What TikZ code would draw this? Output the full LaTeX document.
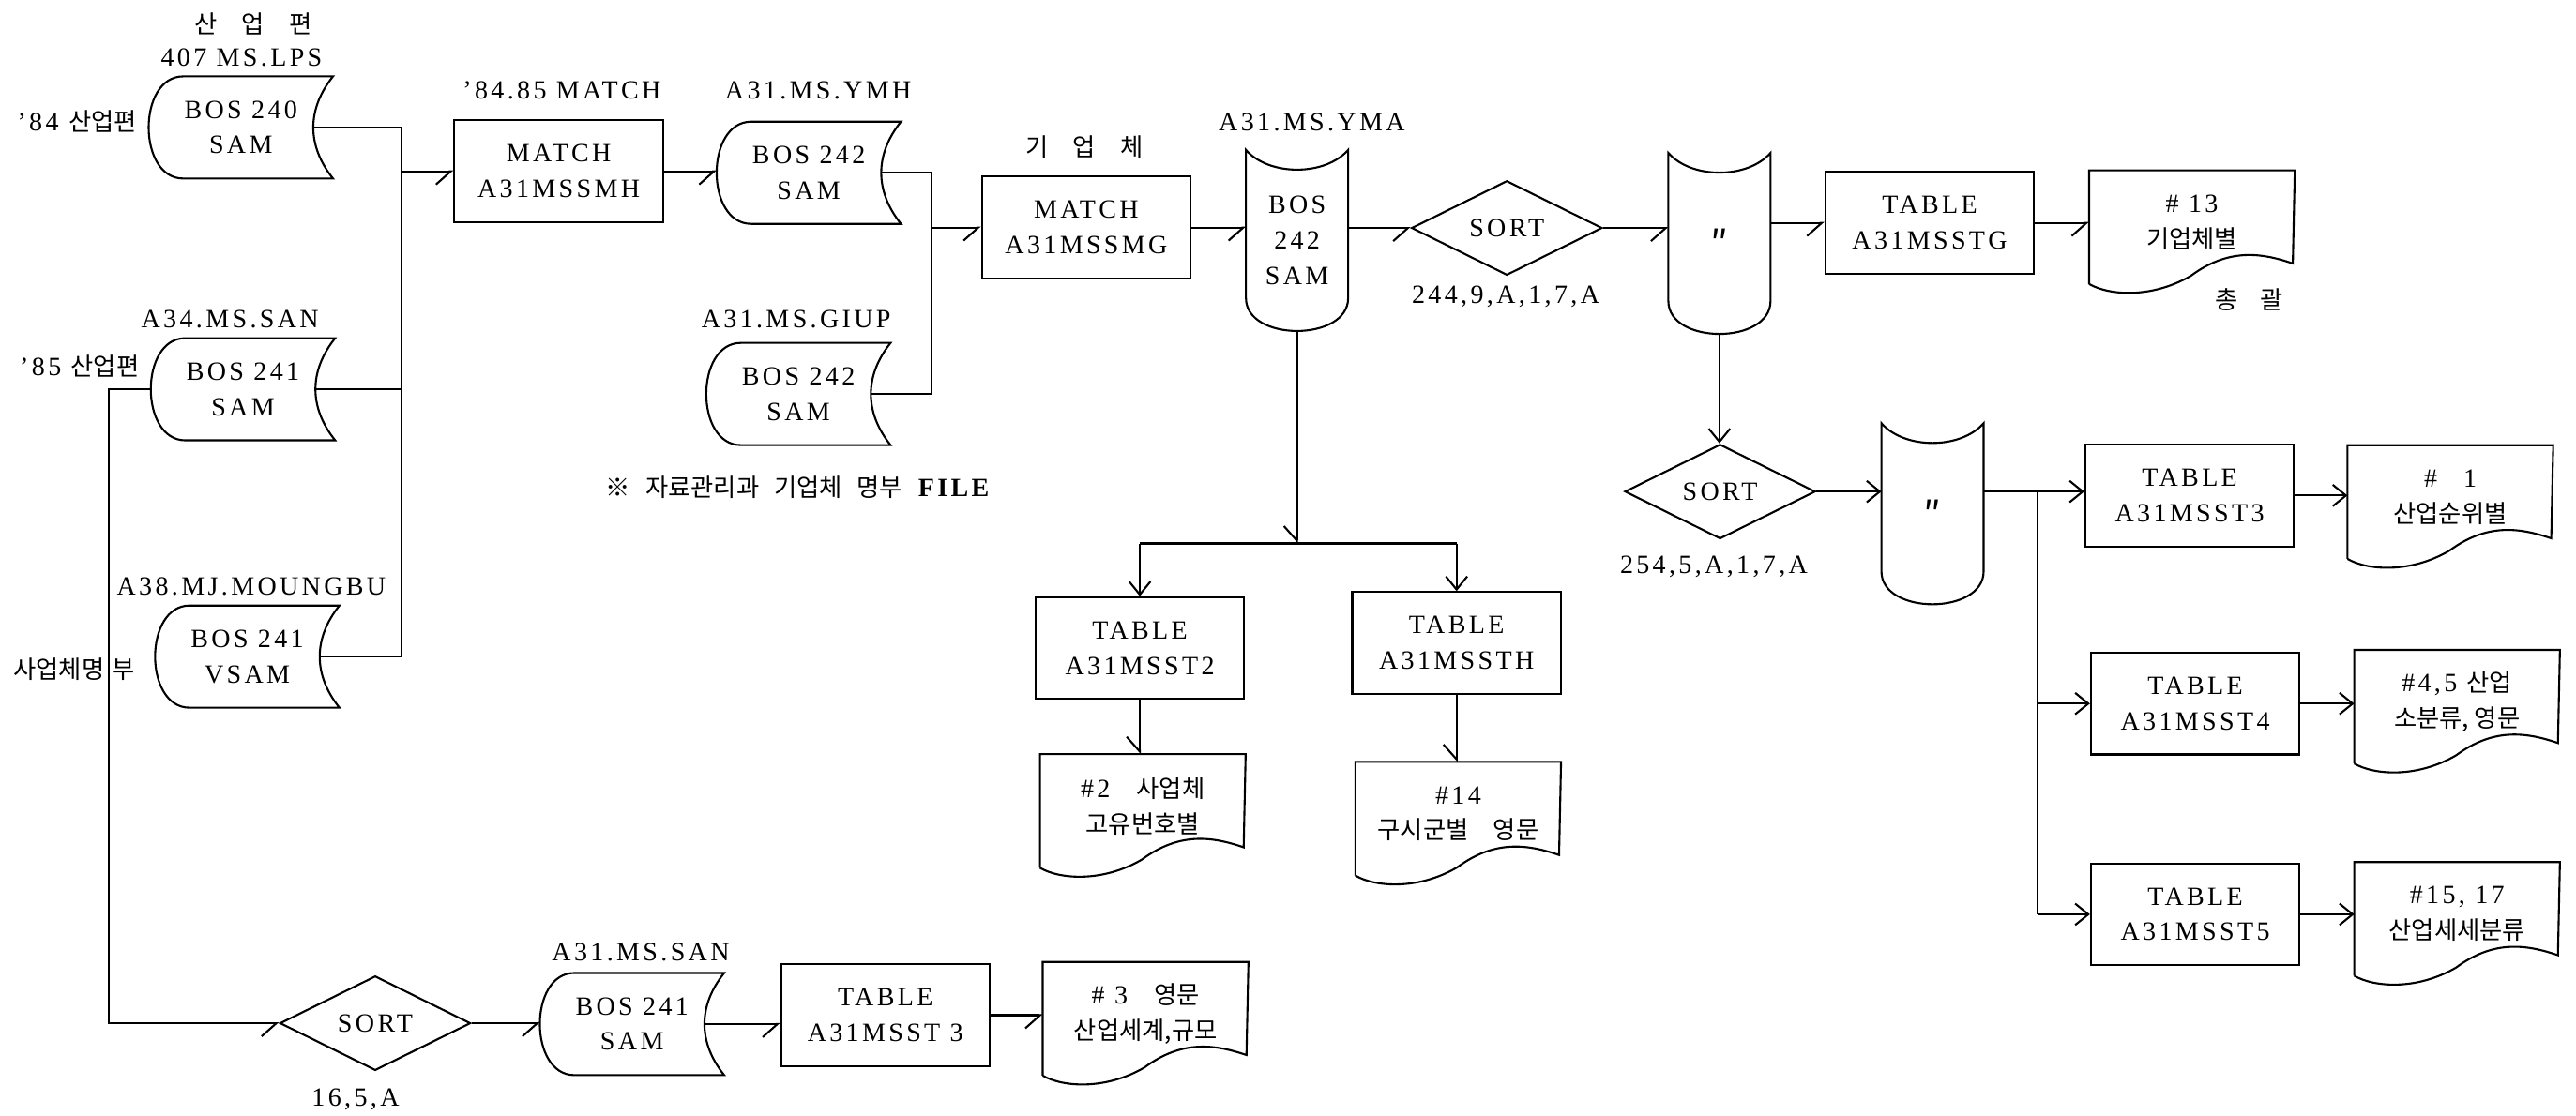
\documentclass[tikz,border=0pt]{standalone}
\usepackage{fontspec}
\setmainfont{Liberation Serif}[LetterSpace=12]
\newfontfamily\kr{Noto Sans CJK KR}[Scale=0.94]
\usetikzlibrary{arrows.meta,shapes.geometric,calc}

\tikzset{
  txt/.style={inner sep=0pt, font=\fontsize{16}{21.5}\selectfont, align=center},
  box/.style={draw, rectangle, minimum width=127pt, minimum height=62pt, inner sep=0pt, txt},
  stor/.style={rectangle, minimum width=111pt, minimum height=61pt, inner sep=0pt, txt},
  vstor/.style={rectangle, minimum width=61pt, minimum height=109pt, inner sep=0pt, txt},
  docu/.style={rectangle, minimum width=124pt, minimum height=62pt, inner sep=0pt, txt},
  sortd/.style={draw, diamond, aspect=2, minimum width=116pt, minimum height=57.5pt, inner sep=0pt, txt},
  harp/.style={-{Straight Barb[harpoon,swap,length=9pt,width=16pt]}},
  farrow/.style={-{Straight Barb[length=8pt,width=13pt]}},
  ditto/.style={font=\fontsize{24}{24}\selectfont},
}

\newcommand\storshape[1]{%
  \draw ($(#1.north west)+(21,0)$) -- (#1.north east)
     .. controls ($(#1.north east)+(-16,20)$) and ($(#1.south east)+(-16,-20)$) .. (#1.south east)
     -- ($(#1.south west)+(21,0)$)
     .. controls ($(#1.south west)+(-7,0)$) and ($(#1.north west)+(-7,0)$) .. cycle;}
\newcommand\vstorshape[1]{%
  \draw (#1.north west) .. controls ($(#1.north west)+(14,16)$) and ($(#1.north east)+(-14,16)$) .. (#1.north east)
     -- ($(#1.south east)+(0,-20)$)
     .. controls ($(#1.south east)+(0,6.7)$) and ($(#1.south west)+(0,6.7)$) .. ($(#1.south west)+(0,-20)$)
     -- cycle;}
\newcommand\docshape[1]{%
  \draw ($(#1.south west)+(0,6)$) -- (#1.north west) -- (#1.north east) -- ($(#1.south west)+(124,-6.5)$)
     .. controls ($(#1.south west)+(105,-13)$) and ($(#1.south west)+(85,-16)$) .. ($(#1.south west)+(62,1)$)
     .. controls ($(#1.south west)+(38,15)$) and ($(#1.south west)+(12,13)$) .. ($(#1.south west)+(0,6)$);}

\begin{document}
\begin{tikzpicture}[x=1pt,y=-1pt,line width=1.2pt]
\fill[white] (0,0) rectangle (1568,679.5);
\useasboundingbox (0,0) rectangle (1568,679.5);

% storage nodes
\node[stor] (S1) at (146.6,77.6) {BOS 240\\SAM};
\node[stor] (S2) at (147.9,237) {BOS 241\\SAM};
\node[stor] (S3) at (150.5,399.8) {BOS 241\\VSAM};
\node[stor] (S4) at (492.3,105.2) {BOS 242\\SAM};
\node[stor] (S6) at (486,239.9) {BOS 242\\SAM};
\node[stor] (S9) at (384.7,623.5) {BOS 241\\SAM};
\foreach \n in {S1,S2,S3,S4,S6,S9} {\storshape{\n}}

% processes
\node[box] (M1) at (340.1,104.3) {MATCH\\A31MSSMH};
\node[box] (M2) at (661.2,138.5) {MATCH\\A31MSSMG};
\node[box] (T1) at (1174.6,135.7) {TABLE\\A31MSSTG};
\node[box] (T2) at (693.8,394.6) {TABLE\\A31MSST2};
\node[box] (TH) at (886.6,391.5) {TABLE\\A31MSSTH};
\node[box] (T3) at (1332.8,301.7) {TABLE\\A31MSST3};
\node[box] (T4) at (1336.2,428.4) {TABLE\\A31MSST4};
\node[box] (T5) at (1336.2,556.7) {TABLE\\A31MSST5};
\node[box] (T6) at (538.9,618.1) {TABLE\\A31MSST 3};

% vertical storages
\node[vstor] (S5) at (789.5,146.4) {BOS\\242\\SAM};
\node[vstor,ditto] (S7) at (1046.6,148.2) {{\kr ″}};
\node[vstor,ditto] (S8) at (1176.3,312.8) {{\kr ″}};
\foreach \n in {S5,S7,S8} {\vstorshape{\n}}

% sorts
\node[sortd] (SO1) at (917.2,138.8) {SORT};
\node[sortd] (SO2) at (1047,299.3) {SORT};
\node[sortd] (SO3) at (228.4,623) {SORT};

% documents
\node[docu] (D1) at (1334.2,135.3) {\# 13\\{\kr 기업체별}};
\node[docu] (D2) at (695.6,490.8) {\#2\quad{\kr 사업체}\\{\kr 고유번호별}};
\node[docu] (D3) at (887.6,495.5) {\#14\\{\kr 구시군별\quad 영문}};
\node[docu] (D4) at (1491.5,302.7) {\#\quad 1\\{\kr 산업순위별}};
\node[docu] (D5) at (1495.6,427.3) {\#4,5 {\kr 산업}\\{\kr 소분류, 영문}};
\node[docu] (D6) at (1495.6,556.5) {\#15, 17\\{\kr 산업세세분류}};
\node[docu] (D7) at (697.3,617.3) {\# 3\quad{\kr 영문}\\{\kr 산업세계,규모}};
\foreach \n in {D1,D2,D3,D4,D5,D6,D7} {\docshape{\n}}

% labels
\node[txt] (l1) at (154,14.3) {{\kr 산\hspace{1em}업\hspace{1em}편}};
\node[txt] (l2) at (147,35.2) {407 MS.LPS};
\node[txt,anchor=west] (l3) at (10,74.2) {’84 {\kr 산업편}};
\node[txt] (l4) at (342,55.2) {’84.85 MATCH};
\node[txt] (l5) at (140,194.2) {A34.MS.SAN};
\node[txt,anchor=west] (l6) at (11.5,222.7) {’85 {\kr 산업편}};
\node[txt] (l7) at (153,356.9) {A38.MJ.MOUNGBU};
\node[txt,anchor=west] (l8) at (7.6,407.3) {{\kr 사업체명\hspace{0.3em}부}};
\node[txt] (l9) at (498,55.2) {A31.MS.YMH};
\node[txt] (l10) at (484.6,194.2) {A31.MS.GIUP};
\node[txt] (l11) at (660,89.5) {{\kr 기\hspace{1em}업\hspace{1em}체}};
\node[txt] (l12) at (798.5,74.2) {A31.MS.YMA};
\node[txt] (l13) at (916.5,180.8) {244,9,A,1,7,A};
\node[txt] (l14) at (1369.3,182.7) {{\kr 총\hspace{0.9em}괄}};
\node[txt] (l15) at (486.4,297) {{\kr ※\hspace{0.6em}자료관리과\hspace{0.6em}기업체\hspace{0.6em}명부}\hspace{0.6em}\textbf{FILE}};
\node[txt] (l16) at (1043.2,345.1) {254,5,A,1,7,A};
\node[txt] (l17) at (216.4,669.2) {16,5,A};
\node[txt] (l18) at (390,579.7) {A31.MS.SAN};

% helper coordinates
\coordinate (busL) at (244.5,0);
\coordinate (loopL) at (66,0);
\coordinate (bus2) at (566.8,0);
\coordinate (Jy) at (0,330.9);
\coordinate (Bx) at (1240.3,0);

% connectors left
\draw ($(S1.east)+(-12,0)$) -- (S1.east -| busL) -- (S3.east -| busL) -- ($(S3.east)+(-12,0)$);
\draw ($(S2.east)+(-12,0)$) -- (S2.east -| busL);
\draw[harp] (M1.west -| busL) -- (M1.west);
\draw[harp] (S2.west) -- (S2.west -| loopL) -- (SO3.west -| loopL) -- (SO3.west);
\draw[harp] (SO3.east) -- (SO3.east -| S9.west);
\draw[harp] ($(S9.east)+(-12,0)$) -- (S9.east -| T6.west);
\draw[harp] (T6.east) -- (T6.east -| D7.west);
\draw[harp] (M1.east) -- (M1.east -| S4.west);
\draw ($(S4.east)+(-12,0)$) -- (S4.east -| bus2) -- (S6.east -| bus2) -- ($(S6.east)+(-12,0)$);
\draw[harp] (M2.west -| bus2) -- (M2.west);
\draw[harp] (M2.east) -- (M2.east -| S5.west);
\draw[harp] (SO1.west -| S5.east) -- (SO1.west);
\draw[harp] (SO1.east) -- (SO1.east -| S7.west);
\draw[harp] (T1.west -| S7.east) -- (T1.west);
\draw[harp] (T1.east) -- (T1.east -| D1.west);
% middle branch
\draw[harp] (S5.south) -- (S5.south |- Jy);
\draw (T2.north |- Jy) -- (TH.north |- Jy);
\draw[farrow] (T2.north |- Jy) -- (T2.north);
\draw[farrow] (TH.north |- Jy) -- (TH.north);
\draw[harp] (T2.south) -- (T2.south |- D2.north);
\draw[harp] (TH.south) -- (TH.south |- D3.north);
% right part
\draw[farrow] (S7.south) -- (S7.south |- SO2.north);
\draw[farrow] (SO2.east) -- (SO2.east -| S8.west);
\draw[farrow] (SO2.east -| S8.east) -- (SO2.east -| T3.west);
\draw (SO2.east -| Bx) -- (T5.west -| Bx);
\draw[farrow] (T4.west -| Bx) -- (T4.west);
\draw[farrow] (T5.west -| Bx) -- (T5.west);
\draw[farrow] (T3.east) -- (T3.east -| D4.west);
\draw[farrow] (T4.east) -- (T4.east -| D5.west);
\draw[farrow] (T5.east) -- (T5.east -| D6.west);
\end{tikzpicture}
\end{document}
